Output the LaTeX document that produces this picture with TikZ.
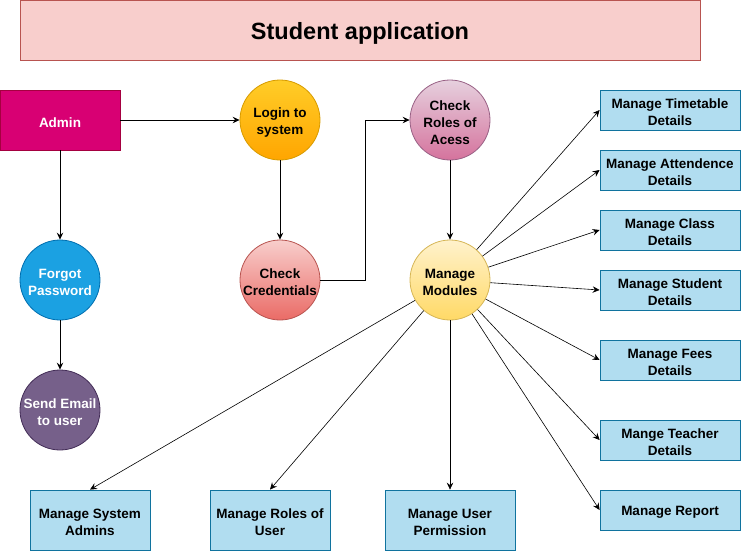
\documentclass[tikz,border=0pt]{standalone}
\usepackage{fontspec}
\setmainfont{Liberation Sans}
\usetikzlibrary{arrows.meta}

\definecolor{titlefill}{HTML}{F8CECC}
\definecolor{titleline}{HTML}{B85450}
\definecolor{adminfill}{HTML}{D80073}
\definecolor{adminline}{HTML}{A50040}
\definecolor{bluefill}{HTML}{1BA1E2}
\definecolor{blueline}{HTML}{006EAF}
\definecolor{purplefill}{HTML}{76608A}
\definecolor{purpleline}{HTML}{432D57}
\definecolor{orangetop}{HTML}{FFCD28}
\definecolor{orangebot}{HTML}{FFA500}
\definecolor{orangeline}{HTML}{D79B00}
\definecolor{redtop}{HTML}{F8CECC}
\definecolor{redbot}{HTML}{EA6B66}
\definecolor{redline}{HTML}{B85450}
\definecolor{pinktop}{HTML}{E6D0DE}
\definecolor{pinkbot}{HTML}{D5739D}
\definecolor{pinkline}{HTML}{996185}
\definecolor{yellowtop}{HTML}{FFF2CC}
\definecolor{yellowbot}{HTML}{FFD966}
\definecolor{yellowline}{HTML}{D6B656}
\definecolor{modfill}{HTML}{B1DDF0}
\definecolor{modline}{HTML}{10739E}

\tikzset{
  every node/.style={font=\bfseries\fontsize{13.5}{17}\selectfont, align=center, inner sep=0pt},
  % centred caption, set slightly below the geometric centre of its shape
  lbl/.style={label={[yshift=-2.5pt]center:{#1}}},
  lblw/.style={label={[yshift=-2.5pt, text=white]center:{#1}}},
  boxnode/.style={draw, rectangle, line width=0.8pt},
  circnode/.style={draw, circle, minimum size=80pt, line width=0.8pt},
  modbox/.style={boxnode, fill=modfill, draw=modline, minimum width=140pt, minimum height=40pt},
  lowbox/.style={boxnode, fill=modfill, draw=modline, minimum height=60pt},
  flow/.style={draw=black, line width=0.8pt, -{Stealth[length=7pt,width=6.5pt,inset=2.5pt]}},
  spoke/.style={draw=black, line width=0.6pt, -{Stealth[length=7pt,width=6.5pt,inset=2.5pt]}}
}

\begin{document}
\begin{tikzpicture}[x=1pt,y=-1pt]
  \useasboundingbox (0,0) rectangle (742,552);

  % title banner
  \node[boxnode, fill=titlefill, draw=titleline, minimum width=680pt, minimum height=60pt,
        label={[yshift=-3pt, font=\bfseries\fontsize{23.5}{27}\selectfont]center:Student application}]
        (title) at (360,30) {};

  % login flow
  \node[boxnode, fill=adminfill, draw=adminline, minimum width=120pt, minimum height=60pt,
        lblw=Admin] (admin) at (60,120) {};
  \node[circnode, fill=bluefill, draw=blueline, lblw={Forgot\\Password}] (forgot) at (60,280) {};
  \node[circnode, fill=purplefill, draw=purpleline, lblw={Send Email\\to user}] (email) at (60,410) {};
  \node[circnode, top color=orangetop, bottom color=orangebot, draw=orangeline,
        lbl={Login to\\system}] (login) at (280,120) {};
  \node[circnode, top color=redtop, bottom color=redbot, draw=redline,
        lbl={Check\\Credentials}] (cred) at (280,280) {};
  \node[circnode, top color=pinktop, bottom color=pinkbot, draw=pinkline,
        lbl={Check\\Roles of\\Acess}] (roles) at (450,120) {};
  \node[circnode, top color=yellowtop, bottom color=yellowbot, draw=yellowline,
        lbl={Manage\\Modules}] (modules) at (450,280) {};

  % module boxes on the right
  \node[modbox, lbl={Manage Timetable\\Details}] (timetable) at (670,110) {};
  \node[modbox, lbl={Manage Attendence\\Details}] (attend) at (670,170) {};
  \node[modbox, lbl={Manage Class\\Details}] (class) at (670,230) {};
  \node[modbox, lbl={Manage Student\\Details}] (student) at (670,290) {};
  \node[modbox, lbl={Manage Fees\\Details}] (fees) at (670,360) {};
  \node[modbox, lbl={Mange Teacher\\Details}] (teacher) at (670,440) {};
  \node[modbox, lbl={Manage Report}] (report) at (670,510) {};

  % module boxes along the bottom
  \node[lowbox, minimum width=120pt, lbl={Manage System\\Admins}] (sysadmin) at (90,520) {};
  \node[lowbox, minimum width=120pt, lbl={Manage Roles of\\User}] (userroles) at (270,520) {};
  \node[lowbox, minimum width=130pt, lbl={Manage User\\Permission}] (perm) at (450,520) {};

  % connectors
  \draw[flow] (admin) -- (login);
  \draw[flow] (admin) -- (forgot);
  \draw[flow] (forgot) -- (email);
  \draw[flow] (login) -- (cred);
  \draw[flow] (cred.east) -- ++(45,0) |- (roles.west);
  \draw[flow] (roles) -- (modules);

  \foreach \t in {timetable,attend,class,student,fees,teacher,report}
    \draw[spoke] (modules) -- (\t.west);
  \draw[spoke] (modules) -- (sysadmin.north);
  \draw[spoke] (modules) -- (userroles.north);
  \draw[spoke] (modules) -- (perm.north);
\end{tikzpicture}
\end{document}
